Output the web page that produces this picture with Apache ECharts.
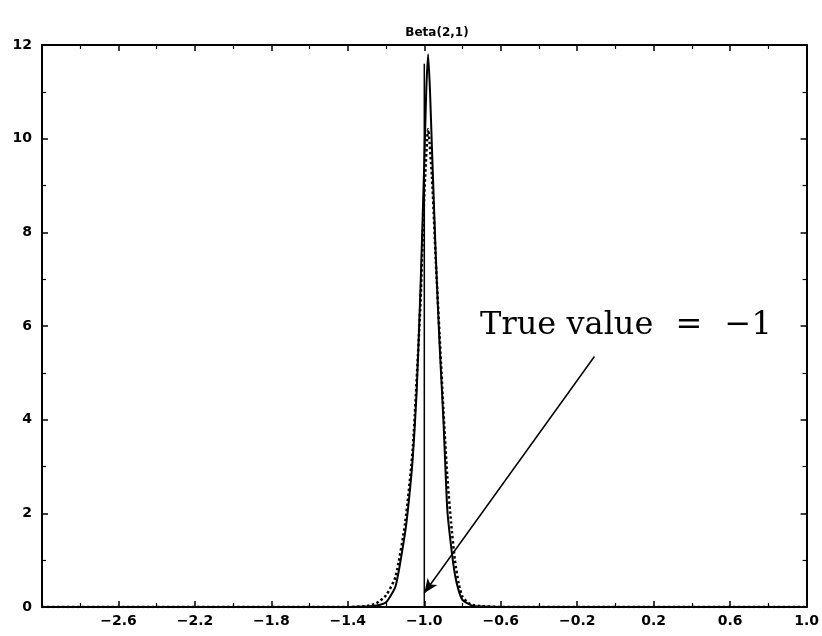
<!DOCTYPE html>
<html><head><meta charset="utf-8">
<script src="https://cdn.jsdelivr.net/npm/echarts@6/dist/echarts.min.js"></script>
<style>html,body{margin:0;padding:0;background:#fff}#c{width:822px;height:636px}</style>
</head><body><div id="c"></div>
<script>
const titleText = "Beta(2,1)";
const xTickLabels = ["-2.6","-2.2","-1.8","-1.4","-1.0","-0.6","-0.2","0.2","0.6","1.0"];
const yTickLabels = ["0","2","4","6","8","10","12"];
const solidX = [-3.0,-1.40,-1.30,-1.25,-1.20,-1.15,-1.10,-1.08,-1.06,-1.04,-1.02,-1.00,-0.99,-0.98,-0.97,-0.96,-0.94,-0.92,-0.90,-0.88,-0.86,-0.84,-0.82,-0.80,-0.75,-0.70,-0.60,1.0];
const solidY = [0,0,0.01,0.03,0.1,0.45,1.6,2.3,3.2,4.6,6.8,9.5,11.0,11.8,11.0,9.8,7.5,5.6,4.0,2.1,1.3,0.7,0.35,0.15,0.03,0.01,0,0];
const dottedX = [-3.0,-1.40,-1.30,-1.25,-1.20,-1.15,-1.10,-1.06,-1.02,-1.00,-0.98,-0.96,-0.94,-0.92,-0.90,-0.88,-0.86,-0.84,-0.82,-0.80,-0.76,-0.70,-0.60,1.0];
const dottedY = [0,0,0.02,0.08,0.25,0.65,1.8,3.4,6.5,8.8,10.2,9.2,7.4,5.8,4.2,2.8,1.8,1.0,0.5,0.22,0.06,0.02,0,0];
const trueValue = -1;
const trueLineTop = 11.6;
const annotWords = ["True value ", "=", " \u22121"];
const annotPos = [-0.708, 6.0];
const arrowFrom = [-0.11, 5.35];
const arrowTo = [-1.0, 0.3];

const zip = (a,b)=>a.map((v,i)=>[v,b[i]]);
const chart = echarts.init(document.getElementById('c'));
const lab = {fontFamily:'DejaVu Sans', fontWeight:'bold', fontSize:14, color:'#000'};
const axLine = {onZero:false, lineStyle:{color:'#000', width:2}};
const tick = {inside:true, length:6, lineStyle:{color:'#000', width:1.5}};
const minor = {show:true, splitNumber:2, length:4, lineStyle:{color:'#000', width:1.2}};
const serif = {fontFamily:'DejaVu Serif', fontSize:32, color:'#000'};
chart.setOption({
  animation:false,
  backgroundColor:'#fff',
  title:{text:titleText, left:432, top:22, textAlign:'center',
    textStyle:{fontFamily:'DejaVu Sans', fontWeight:'bold', fontSize:12, color:'#000'}},
  grid:{left:42, right:11, top:45, bottom:29},
  xAxis:[{
    type:'value', min:-3.0, max:1.0, interval:0.4, position:'bottom',
    axisLine:axLine, axisTick:tick, minorTick:minor, splitLine:{show:false},
    axisLabel:Object.assign({margin:7, formatter:(v)=>{const s=v.toFixed(1);return xTickLabels.includes(s)?s.replace('-','\u2212'):'';}}, lab)
  },{
    type:'value', min:-3.0, max:1.0, interval:0.4, position:'top',
    axisLine:axLine, axisTick:tick, minorTick:minor, splitLine:{show:false}, axisLabel:{show:false}
  }],
  yAxis:[{
    type:'value', min:0, max:12, interval:2, position:'left',
    axisLine:axLine, axisTick:tick, minorTick:minor, splitLine:{show:false},
    axisLabel:Object.assign({margin:10, formatter:(v)=>yTickLabels.includes(String(v))?String(v):''}, lab)
  },{
    type:'value', min:0, max:12, interval:2, position:'right',
    axisLine:axLine, axisTick:tick, minorTick:minor, splitLine:{show:false}, axisLabel:{show:false}
  }],
  series:[
    {type:'line', data:zip(solidX, solidY), showSymbol:false, smooth:0.2,
     lineStyle:{color:'#000', width:2}},
    {type:'line', data:zip(dottedX, dottedY), showSymbol:false, smooth:0.2,
     lineStyle:{color:'#000', width:2.5, type:'dotted'}},
    {type:'line', data:[[trueValue,0],[trueValue,trueLineTop]], showSymbol:false,
     lineStyle:{color:'#000', width:1.5},
     markLine:{silent:true, symbol:['none','arrow'], symbolSize:[9,14],
       lineStyle:{color:'#000', width:1.5, type:'solid'}, label:{show:false},
       data:[[{coord:arrowFrom},{coord:arrowTo}]]},
     markPoint:{silent:true, symbol:'circle', symbolSize:0,
       data:[{coord:annotPos, label:{show:true, position:'right', distance:0,
         formatter:'{t|'+annotWords[0]+'}{e|'+annotWords[1]+'}{t|'+annotWords[2]+'}',
         rich:{t:serif, e:Object.assign({padding:[0,12]}, serif)}}}]}
    }
  ]
});
</script></body></html>
